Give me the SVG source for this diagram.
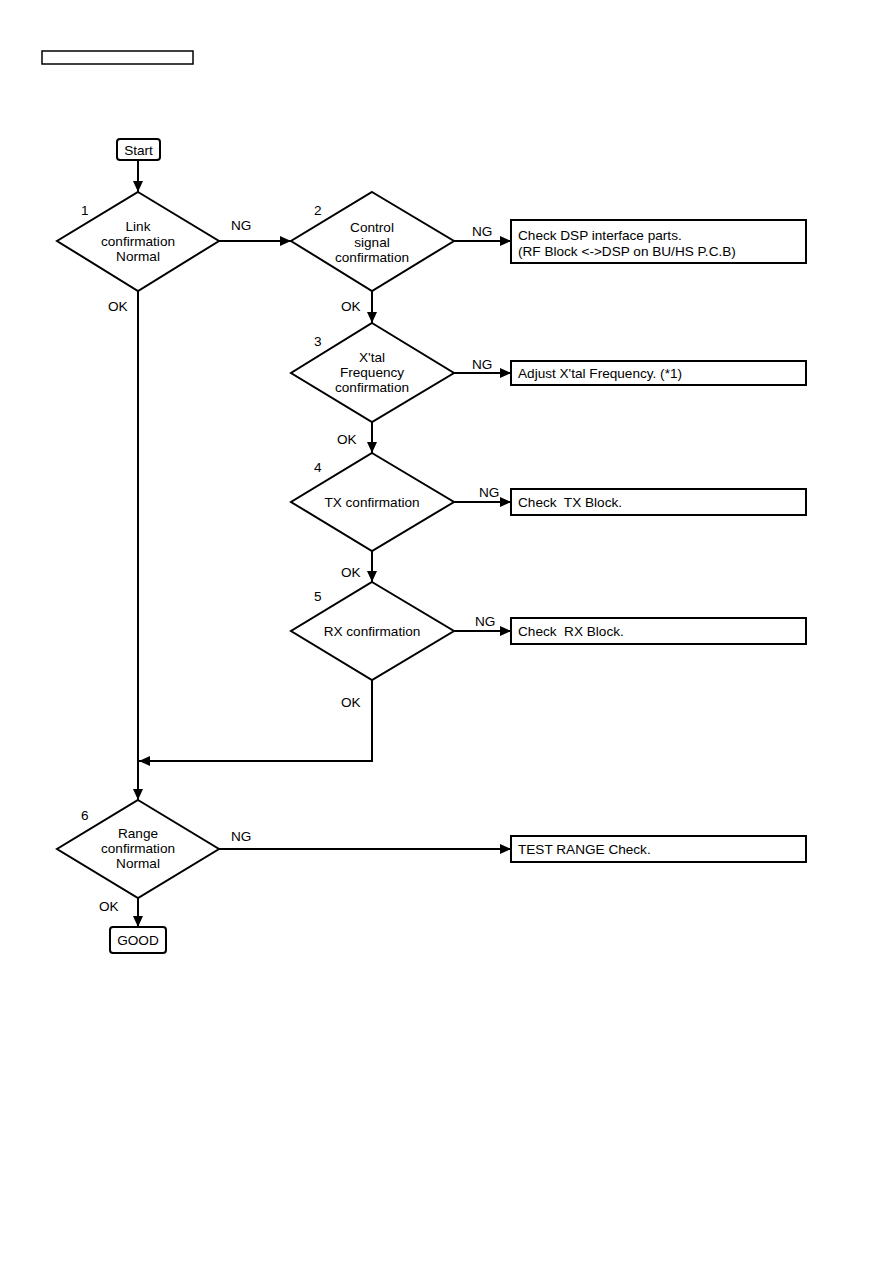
<svg xmlns="http://www.w3.org/2000/svg" width="893" height="1263" viewBox="0 0 893 1263">
<defs>
<marker id="arr" markerWidth="11" markerHeight="10" refX="11" refY="5" orient="auto" markerUnits="userSpaceOnUse">
<path d="M0,0 L11,5 L0,10 Z" fill="#000"/>
</marker>
<style>
.t{font-family:"Liberation Sans",Arial,sans-serif;font-size:13.6px;fill:#000;white-space:pre}
.c{text-anchor:middle}
.s{fill:#fff;stroke:#000;stroke-width:2}
.l{fill:none;stroke:#000;stroke-width:2}
</style>
</defs>
<rect width="893" height="1263" fill="#fff"/>
<rect x="42" y="51" width="151" height="13" fill="none" stroke="#000" stroke-width="1.5"/>
<g id="connectors">
<line class="l" x1="138" y1="160" x2="138" y2="192" marker-end="url(#arr)"/>
<line class="l" x1="219" y1="241" x2="291" y2="241" marker-end="url(#arr)"/>
<line class="l" x1="454" y1="241" x2="511" y2="241" marker-end="url(#arr)"/>
<line class="l" x1="372" y1="291" x2="372" y2="323" marker-end="url(#arr)"/>
<line class="l" x1="454" y1="373" x2="511" y2="373" marker-end="url(#arr)"/>
<line class="l" x1="372" y1="422" x2="372" y2="453" marker-end="url(#arr)"/>
<line class="l" x1="454" y1="502" x2="511" y2="502" marker-end="url(#arr)"/>
<line class="l" x1="372" y1="551" x2="372" y2="582" marker-end="url(#arr)"/>
<line class="l" x1="454" y1="631" x2="511" y2="631" marker-end="url(#arr)"/>
<polyline class="l" points="372,680 372,761 139,761" marker-end="url(#arr)"/>
<line class="l" x1="138" y1="291" x2="138" y2="800" marker-end="url(#arr)"/>
<line class="l" x1="219" y1="849" x2="511" y2="849" marker-end="url(#arr)"/>
<line class="l" x1="138" y1="898" x2="138" y2="927" marker-end="url(#arr)"/>
<text class="t" x="231" y="230">NG</text>
<text class="t" x="472" y="236">NG</text>
<text class="t" x="472" y="369">NG</text>
<text class="t" x="479" y="497">NG</text>
<text class="t" x="475" y="626">NG</text>
<text class="t" x="231" y="841">NG</text>
<text class="t" x="108" y="311">OK</text>
<text class="t" x="341" y="311">OK</text>
<text class="t" x="337" y="444">OK</text>
<text class="t" x="341" y="577">OK</text>
<text class="t" x="341" y="707">OK</text>
<text class="t" x="99" y="911">OK</text>
</g>
<g id="start">
<rect class="s" x="117" y="139" width="43" height="21" rx="3"/>
<text class="t c" x="138.5" y="155">Start</text>
</g>
<g id="d1">
<polygon class="s" points="138,192 219,241 138,291 57,241"/>
<text class="t" x="81" y="215">1</text>
<text class="t c" x="138" y="231">Link</text>
<text class="t c" x="138" y="246">confirmation</text>
<text class="t c" x="138" y="261">Normal</text>
</g>
<g id="d2">
<polygon class="s" points="372,192 454,241 372,291 291,241"/>
<text class="t" x="314" y="215">2</text>
<text class="t c" x="372" y="232">Control</text>
<text class="t c" x="372" y="247">signal</text>
<text class="t c" x="372" y="262">confirmation</text>
</g>
<g id="b2">
<rect class="s" x="511" y="220" width="295" height="43"/>
<text class="t" x="518" y="240">Check DSP interface parts.</text>
<text class="t" x="518" y="256">(RF Block &lt;-&gt;DSP on BU/HS P.C.B)</text>
</g>
<g id="d3">
<polygon class="s" points="372,323 454,373 372,422 291,373"/>
<text class="t" x="314" y="346">3</text>
<text class="t c" x="372" y="362">X'tal</text>
<text class="t c" x="372" y="377">Frequency</text>
<text class="t c" x="372" y="392">confirmation</text>
</g>
<g id="b3">
<rect class="s" x="511" y="361" width="295" height="24"/>
<text class="t" x="518" y="378">Adjust X'tal Frequency. (*1)</text>
</g>
<g id="d4">
<polygon class="s" points="372,453 454,502 372,551 291,502"/>
<text class="t" x="314" y="472">4</text>
<text class="t c" x="372" y="507">TX confirmation</text>
</g>
<g id="b4">
<rect class="s" x="511" y="489" width="295" height="26"/>
<text class="t" x="518" y="507" xml:space="preserve">Check  TX Block.</text>
</g>
<g id="d5">
<polygon class="s" points="372,582 454,631 372,680 291,631"/>
<text class="t" x="314" y="601">5</text>
<text class="t c" x="372" y="636">RX confirmation</text>
</g>
<g id="b5">
<rect class="s" x="511" y="618" width="295" height="26"/>
<text class="t" x="518" y="636" xml:space="preserve">Check  RX Block.</text>
</g>
<g id="d6">
<polygon class="s" points="138,800 219,849 138,898 57,849"/>
<text class="t" x="81" y="820">6</text>
<text class="t c" x="138" y="838">Range</text>
<text class="t c" x="138" y="853">confirmation</text>
<text class="t c" x="138" y="868">Normal</text>
</g>
<g id="b6">
<rect class="s" x="511" y="836" width="295" height="26"/>
<text class="t" x="518" y="854">TEST RANGE Check.</text>
</g>
<g id="good">
<rect class="s" x="110" y="927" width="56" height="26" rx="3"/>
<text class="t c" x="138" y="945">GOOD</text>
</g>
</svg>
